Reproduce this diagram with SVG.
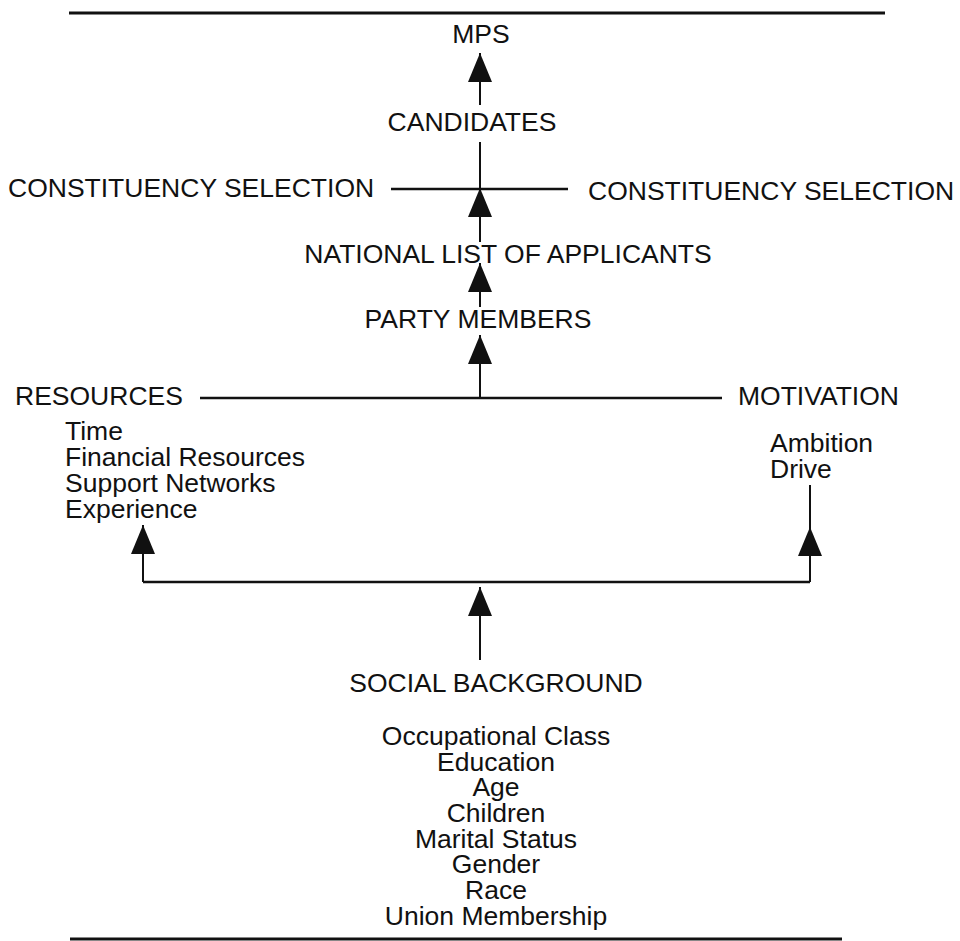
<svg xmlns="http://www.w3.org/2000/svg" width="960" height="941" viewBox="0 0 960 941">
<defs>
<style>
text{font-family:"Liberation Sans",Arial,Helvetica,sans-serif;font-size:26.5px;fill:#111;}
.c{text-anchor:middle;}
.ln{stroke:#111;stroke-width:2;fill:none;}
.hl{stroke:#111;stroke-width:2.5;fill:none;}
.rule{stroke:#111;stroke-width:3;}
</style>
<marker id="arr" markerUnits="userSpaceOnUse" markerWidth="29" markerHeight="24" viewBox="0 0 29 24" refX="29" refY="12" orient="auto">
<path d="M0,0 L29,12 L0,24 Z" fill="#111"/>
</marker>
</defs>
<rect width="960" height="941" fill="#fff"/>
<line class="rule" x1="69" y1="13" x2="885" y2="13"/>
<line class="rule" x1="70" y1="939" x2="842" y2="939"/>

<g id="connectors">
<path class="ln" d="M480 105 L480 53" marker-end="url(#arr)"/>
<path class="ln" d="M480 142 L480 189"/>
<path class="hl" d="M391 189 L568 189"/>
<path class="ln" d="M480 242 L480 188" marker-end="url(#arr)"/>
<path class="ln" d="M480 307 L480 263" marker-end="url(#arr)"/>
<path class="ln" d="M480 398 L480 335" marker-end="url(#arr)"/>
<path class="hl" d="M200 398 L722 398"/>
<path class="hl" d="M143 582 L810 582"/>
<path class="ln" d="M143 582 L143 525" marker-end="url(#arr)"/>
<path class="ln" d="M810 485 L810 582"/>
<path class="ln" d="M810 582 L810 527" marker-end="url(#arr)"/>
<path class="ln" d="M480 660 L480 587" marker-end="url(#arr)"/>
</g>

<g id="mps"><text class="c" x="481" y="43">MPS</text></g>
<g id="candidates"><text class="c" x="472" y="131">CANDIDATES</text></g>
<g id="constituency-left"><text x="8" y="197">CONSTITUENCY SELECTION</text></g>
<g id="constituency-right"><text x="588" y="200">CONSTITUENCY SELECTION</text></g>
<g id="national-list"><text class="c" x="508" y="263">NATIONAL LIST OF APPLICANTS</text></g>
<g id="party-members"><text class="c" x="478" y="328">PARTY MEMBERS</text></g>
<g id="resources">
<text x="15" y="405">RESOURCES</text>
<text x="65" y="440">Time</text>
<text x="65" y="466">Financial Resources</text>
<text x="65" y="492">Support Networks</text>
<text x="65" y="518">Experience</text>
</g>
<g id="motivation">
<text x="738" y="405">MOTIVATION</text>
<text x="770" y="452">Ambition</text>
<text x="770" y="478">Drive</text>
</g>
<g id="social-background">
<text class="c" x="496" y="692">SOCIAL BACKGROUND</text>
<text class="c" x="496" y="745">Occupational Class</text>
<text class="c" x="496" y="771">Education</text>
<text class="c" x="496" y="796">Age</text>
<text class="c" x="496" y="822">Children</text>
<text class="c" x="496" y="848">Marital Status</text>
<text class="c" x="496" y="873">Gender</text>
<text class="c" x="496" y="899">Race</text>
<text class="c" x="496" y="925">Union Membership</text>
</g>
</svg>
